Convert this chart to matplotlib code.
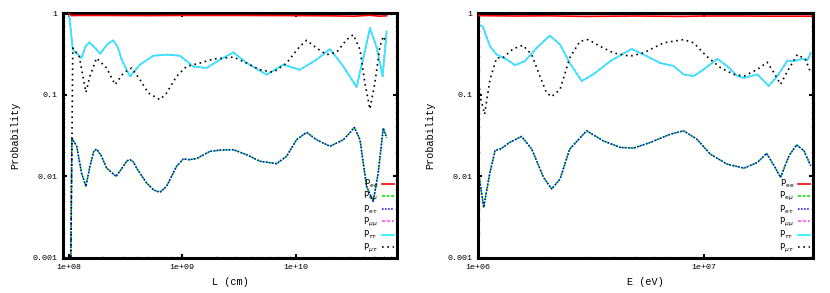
import matplotlib
matplotlib.use('Agg')
import matplotlib.pyplot as plt
from matplotlib.ticker import FixedLocator, FixedFormatter, LogLocator, NullFormatter

# ---- left panel : P vs L (cm) ----
L_ee = [1.0e8, 1.05e8, 1.2e8, 2e8, 5e8, 1e9, 3e9, 1e10, 2e10, 3.3e10, 4.5e10, 5.5e10, 6.36e10]
P_ee_L = [0.99, 0.93, 0.935, 0.935, 0.93, 0.935, 0.935, 0.93, 0.925, 0.915, 0.94, 0.915, 0.925]

L_em = [1.03e8, 1.06e8, 1.17e8, 1.29e8, 1.41e8, 1.53e8, 1.65e8, 1.75e8, 1.92e8, 2.15e8,
        2.60e8, 3.02e8, 3.25e8, 3.45e8, 3.7e8, 3.95e8, 4.84e8, 5.6e8, 6.35e8, 7.27e8,
        8.91e8, 1.02e9, 1.15e9, 1.34e9, 1.75e9, 2.2e9, 2.82e9, 3.70e9, 4.84e9, 6.79e9,
        8.33e9, 1.02e10, 1.25e10, 1.53e10, 2.01e10, 2.64e10, 3.0e10, 3.30e10, 3.70e10, 4.23e10,
        4.84e10, 5.36e10, 5.94e10, 6.36e10]
P_em_L = [0.0003, 0.0295, 0.0233, 0.0110, 0.00755, 0.0133, 0.0200, 0.0216, 0.0180, 0.0126,
          0.0100, 0.0133, 0.0155, 0.0160, 0.0150, 0.0126, 0.00828, 0.0068, 0.00637, 0.00755,
          0.0133, 0.0163, 0.0160, 0.0165, 0.0202, 0.0210, 0.0212, 0.0184, 0.0153, 0.0143,
          0.0176, 0.0281, 0.0346, 0.0281, 0.0233, 0.0281, 0.0340, 0.0398, 0.0281, 0.00755,
          0.00494, 0.0110, 0.0391, 0.0295]
P_et_L = list(P_em_L)

L_tt = [1.0e8, 1.08e8, 1.29e8, 1.4e8, 1.51e8, 1.65e8, 1.88e8, 2.2e8, 2.46e8, 2.7e8,
        2.92e8, 3.45e8, 4.23e8, 5.55e8, 7.27e8, 9.53e8, 1.25e9, 1.64e9, 2.15e9, 2.82e9,
        3.70e9, 5.55e9, 7.79e9, 1.09e10, 1.53e10, 2.01e10, 2.64e10, 3.45e10, 4.0e10, 4.53e10,
        5.19e10, 5.86e10, 6.36e10]
P_tt_L = [1.0, 0.356, 0.281, 0.390, 0.437, 0.390, 0.318, 0.420, 0.463, 0.380,
          0.268, 0.168, 0.233, 0.300, 0.309, 0.300, 0.222, 0.212, 0.268, 0.330,
          0.244, 0.176, 0.233, 0.202, 0.268, 0.362, 0.222, 0.124, 0.300, 0.655,
          0.380, 0.168, 0.597]
P_mm_L = list(P_tt_L)

L_mt = [1.03e8, 1.08e8, 1.23e8, 1.41e8, 1.53e8, 1.75e8, 2.15e8, 2.55e8, 3.02e8, 3.57e8,
        4.23e8, 5.01e8, 6.35e8, 7.27e8, 8.91e8, 1.09e9, 1.43e9, 1.88e9, 2.82e9, 3.70e9,
        4.84e9, 6.35e9, 8.33e9, 1.09e10, 1.25e10, 1.53e10, 1.88e10, 2.30e10, 2.82e10, 3.23e10,
        3.70e10, 4.09e10, 4.53e10, 5.01e10, 5.55e10, 5.94e10, 6.36e10]
P_mt_L = [0.0003, 0.373, 0.295, 0.107, 0.168, 0.281, 0.212, 0.133, 0.184, 0.212,
          0.153, 0.105, 0.0869, 0.105, 0.168, 0.222, 0.244, 0.273, 0.289, 0.244,
          0.202, 0.188, 0.244, 0.391, 0.463, 0.373, 0.309, 0.330, 0.472, 0.543,
          0.356, 0.139, 0.0668, 0.139, 0.391, 0.518, 0.429]

# ---- right panel : P vs E (eV) ----
E_ee = [1.0e6, 1.5e6, 2e6, 3e6, 5e6, 8e6, 1e7, 1.5e7, 2e7, 3e7]
P_ee_E = [0.93, 0.92, 0.925, 0.91, 0.92, 0.91, 0.92, 0.92, 0.915, 0.915]

E_em = [1.0e6, 1.06e6, 1.13e6, 1.19e6, 1.27e6, 1.38e6, 1.56e6, 1.73e6, 1.95e6, 2.12e6,
        2.31e6, 2.55e6, 3.03e6, 3.59e6, 4.27e6, 4.89e6, 5.80e6, 7.11e6, 8.15e6, 9.33e6,
        1.07e7, 1.27e7, 1.51e7, 1.73e7, 1.90e7, 2.05e7, 2.19e7, 2.39e7, 2.58e7, 2.78e7, 2.98e7]
P_em_E = [0.0123, 0.00419, 0.0112, 0.0206, 0.0219, 0.0260, 0.0308, 0.0216, 0.00972, 0.00701,
          0.00928, 0.0216, 0.0361, 0.0272, 0.0226, 0.0222, 0.0260, 0.0328, 0.0361, 0.0285,
          0.0187, 0.0141, 0.0126, 0.0148, 0.0191, 0.0135, 0.00972, 0.0179, 0.0243, 0.0206, 0.0135]
P_et_E = list(P_em_E)

E_tt = [1.0e6, 1.05e6, 1.13e6, 1.21e6, 1.34e6, 1.46e6, 1.61e6, 1.82e6, 2.08e6, 2.31e6,
        2.55e6, 2.88e6, 3.24e6, 3.85e6, 4.80e6, 5.41e6, 6.41e6, 7.36e6, 8.15e6, 9.03e6,
        1.0e7, 1.15e7, 1.27e7, 1.41e7, 1.51e7, 1.73e7, 1.94e7, 2.12e7, 2.35e7, 2.51e7,
        2.73e7, 2.88e7, 2.98e7]
P_tt_E = [0.721, 0.687, 0.392, 0.310, 0.270, 0.230, 0.257, 0.374, 0.529, 0.411,
          0.245, 0.147, 0.177, 0.257, 0.364, 0.310, 0.245, 0.224, 0.177, 0.169,
          0.204, 0.275, 0.224, 0.169, 0.161, 0.177, 0.128, 0.169, 0.262, 0.257,
          0.275, 0.262, 0.325]
P_mm_E = list(P_tt_E)

E_mt = [1.0e6, 1.03e6, 1.07e6, 1.13e6, 1.21e6, 1.29e6, 1.43e6, 1.58e6, 1.73e6, 1.88e6,
        2.01e6, 2.12e6, 2.31e6, 2.55e6, 2.83e6, 3.08e6, 3.47e6, 3.98e6, 4.72e6, 5.41e6,
        6.64e6, 8.15e6, 9.03e6, 1.03e7, 1.19e7, 1.36e7, 1.51e7, 1.73e7, 1.91e7, 2.05e7,
        2.19e7, 2.35e7, 2.60e7, 2.83e7, 2.98e7]
P_mt_E = [0.161, 0.0877, 0.0576, 0.154, 0.283, 0.283, 0.364, 0.403, 0.310, 0.169,
          0.106, 0.0946, 0.116, 0.283, 0.451, 0.473, 0.392, 0.325, 0.296, 0.325,
          0.431, 0.473, 0.431, 0.296, 0.213, 0.177, 0.169, 0.204, 0.250, 0.185,
          0.134, 0.194, 0.310, 0.270, 0.185]

labels = [r'P$_{\mathrm{ee}}$', r'P$_{\mathrm{e}\mu}$', r'P$_{\mathrm{e}\tau}$',
          r'P$_{\mu\mu}$', r'P$_{\tau\tau}$', r'P$_{\mu\tau}$']
ytick_vals = [0.001, 0.01, 0.1, 1]
ytick_labels = ['0.001', '0.01', '0.1', '1']

mono = 'Liberation Mono'


def draw(ax, ee, em, et, mm, tt, mt, xlim, xticks, xticklabels, xlabel):
    ax.plot(ee[0], ee[1], color='#ff0000', lw=1.2, label=labels[0], zorder=3)
    ax.plot(em[0], em[1], color='#00dd00', lw=1.1, ls=(0, (2, 1)), label=labels[1])
    ax.plot(et[0], et[1], color='#0000ff', lw=1.1, ls=(0, (1, 1)), label=labels[2])
    ax.plot(mm[0], mm[1], color='#ff55ff', lw=1.2, ls=(0, (2, 1)), label=labels[3])
    ax.plot(tt[0], tt[1], color='#22eeff', lw=1.2, label=labels[4])
    ax.plot(mt[0], mt[1], color='black', lw=1.2, ls=(0, (1, 2.2)), label=labels[5])
    ax.set_xscale('log')
    ax.set_yscale('log')
    ax.set_xlim(*xlim)
    ax.set_ylim(0.001, 1)
    ax.xaxis.set_major_locator(FixedLocator(xticks))
    ax.xaxis.set_major_formatter(FixedFormatter(xticklabels))
    ax.yaxis.set_major_locator(FixedLocator(ytick_vals))
    ax.yaxis.set_major_formatter(FixedFormatter(ytick_labels))
    ax.xaxis.set_minor_locator(LogLocator(base=10, subs=range(2, 10)))
    ax.yaxis.set_minor_locator(LogLocator(base=10, subs=range(2, 10)))
    ax.xaxis.set_minor_formatter(NullFormatter())
    ax.yaxis.set_minor_formatter(NullFormatter())
    ax.tick_params(which='major', direction='in', length=3, width=1.5,
                   top=True, right=True, labelsize=6, pad=4)
    ax.tick_params(which='minor', direction='in', length=1.5, width=0.6,
                   top=True, right=True, colors='#888888')
    for lab in ax.get_xticklabels() + ax.get_yticklabels():
        lab.set_family(mono)
    for s in ax.spines.values():
        s.set_linewidth(2.2)
    ax.set_xlabel(xlabel, family=mono, fontsize=7.3, labelpad=5)
    ax.set_ylabel('Probability', family=mono, fontsize=7.3, labelpad=9)
    ax.legend(loc='lower right', frameon=False, markerfirst=False, fontsize=6.2,
              handlelength=1.3, labelspacing=0.0, handletextpad=0.5,
              borderaxespad=0.0)


fig = plt.figure(figsize=(8.3, 2.93), dpi=100)
ax1 = fig.add_axes([0.0759, 0.1195, 0.4024, 0.836])
ax2 = fig.add_axes([0.5759, 0.1195, 0.4036, 0.836])

draw(ax1, (L_ee, P_ee_L), (L_em, P_em_L), (L_em, P_et_L), (L_tt, P_mm_L), (L_tt, P_tt_L),
     (L_mt, P_mt_L), (8.85e7, 7.85e10), [1e8, 1e9, 1e10], ['1e+08', '1e+09', '1e+10'], 'L (cm)')
draw(ax2, (E_ee, P_ee_E), (E_em, P_em_E), (E_em, P_et_E), (E_tt, P_mm_E), (E_tt, P_tt_E),
     (E_mt, P_mt_E), (1e6, 3.05e7), [1e6, 1e7], ['1e+06', '1e+07'], 'E (eV)')

fig.savefig('out.png', dpi=100)
